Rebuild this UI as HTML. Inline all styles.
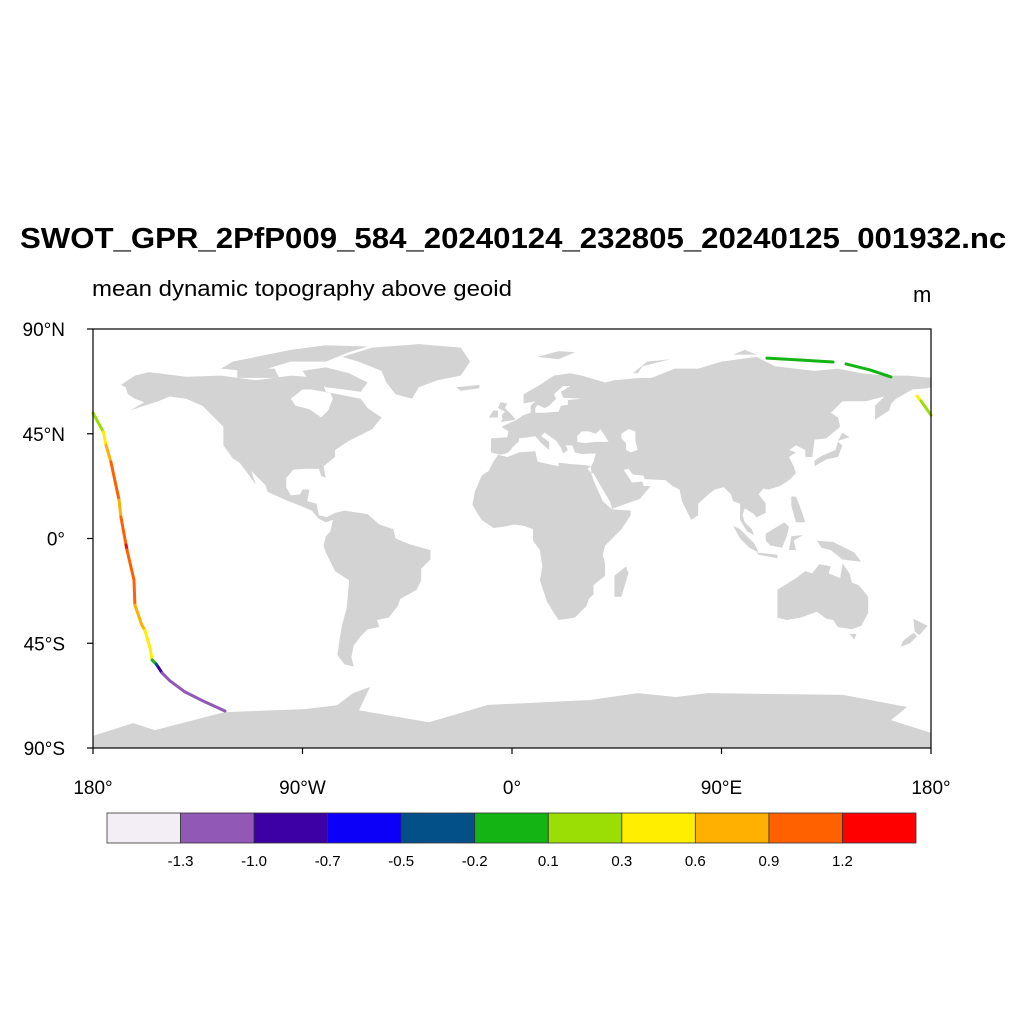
<!DOCTYPE html>
<html><head><meta charset="utf-8">
<style>
html,body{margin:0;padding:0;background:#fff;}
body{width:1024px;height:1024px;position:relative;overflow:hidden;font-family:"Liberation Sans",sans-serif;}
.t{position:absolute;white-space:nowrap;color:#000;transform-origin:0 0;}
</style></head>
<body>
<div class="t" style="left:20px;top:223px;font-size:29px;font-weight:bold;transform:scaleX(1.075);">SWOT_GPR_2PfP009_584_20240124_232805_20240125_001932.nc</div>
<div class="t" style="left:92px;top:276px;font-size:22px;transform:scaleX(1.09);">mean dynamic topography above geoid</div>
<div class="t" style="left:913px;top:282px;font-size:22px;">m</div>
<svg id="map" width="1024" height="1024" style="position:absolute;left:0;top:0" xmlns="http://www.w3.org/2000/svg"></svg>
<script>
const latTicks=[90,45,0,-45,-90];
const latLabels=["90°N","45°N","0°","45°S","90°S"];
const lonTicks=[-180,-90,0,90,180];
const lonLabels=["180°","90°W","0°","90°E","180°"];
const cbColors=["#f3eef6","#9159b5","#3d00a5","#0c00f8","#035088","#14b414","#9ade06","#ffee00","#ffb000","#ff6000","#ff0000"];
const cbLevels=[-1.3,-1.0,-0.7,-0.5,-0.2,0.1,0.3,0.6,0.9,1.2];
const cbLabels=["-1.3","-1.0","-0.7","-0.5","-0.2","0.1","0.3","0.6","0.9","1.2"];
// track 1
const t1Lon=[-180,-175.5,-174.4,-172.3,-168.8,-168.0,-165.8,-165.4,-162.4,-162.0,-159.0,-157.7,-155.5,-154.6,-152.9,-152.0,-150.3,-146.9,-140.5,-131.9,-123.3];
const t1Lat=[53.9,45.7,40.1,32.9,16.5,9.2,-2.8,-4.9,-17.8,-28.6,-37.2,-39.4,-47.0,-52.2,-53.9,-55.2,-57.8,-61.2,-65.9,-70.2,-74.1];
const t1Val=[0.2,0.45,0.7,1.0,0.7,1.0,1.25,1.0,1.0,0.7,0.7,0.45,0.45,0.0,-0.4,-0.8,-1.1,-1.1,-1.1,-1.1,-1.1];
const t2Lon=[109.5,123.7,137.9];
const t2Lat=[77.5,76.7,75.8];
const t2Val=[0.0,0.0,0.0];
const t3Lon=[143.5,153.8,162.8];
const t3Lat=[75.0,72.4,69.4];
const t3Val=[0.0,0.0,0.0];
const t4Lon=[174.0,175.7,180];
const t4Lat=[61.2,59.1,53.0];
const t4Val=[0.45,0.2,0.2];

const L=93,R=931,T=329,B=748;
const X=lon=>L+(lon+180)/360*(R-L);
const Y=lat=>T+(90-lat)/180*(B-T);
const NS="http://www.w3.org/2000/svg";
const svg=document.getElementById('map');
function mk(tag,attrs,parent){const e=document.createElementNS(NS,tag);for(const k in attrs)e.setAttribute(k,attrs[k]);(parent||svg).appendChild(e);return e;}

const land={
na:[[-168,66],[-162,70],[-156,71.5],[-140,69.5],[-125,70],[-110,68],[-95,70],[-82,69],[-80,63],[-65,60],[-62,56],[-56,52],[-60,47],[-66,44],[-70,42],[-76,38],[-76,35],[-81,31],[-80,26],[-82,27],[-83,30],[-89,30],[-94,29.5],[-97,26],[-97,22],[-95,18.5],[-91,19],[-90,21],[-87,21],[-88,16],[-84,15],[-83,10],[-79,9],[-77,8],[-80,7],[-83,8.5],[-86,12],[-92,14.5],[-96,16],[-105,20],[-106,23],[-112,29],[-110,23],[-115,30],[-117,32.5],[-120,34.5],[-124,40],[-124,48],[-127,51],[-133,57],[-140,60],[-147,61],[-152,59],[-158,57],[-164,55],[-158,58.5],[-162,60],[-165,62],[-166,65]],
greenland:[[-73,78],[-60,82],[-40,83.5],[-22,82],[-18,76],[-22,70],[-32,68],[-40,65],[-43,60],[-50,62],[-54,67],[-56,72],[-66,76]],
baffin:[[-90,72],[-80,73.5],[-70,71],[-62,67],[-65,63],[-72,64],[-80,65],[-88,69]],
ellesmere:[[-95,76],[-80,76],[-70,80],[-62,82.5],[-80,83],[-95,81],[-110,78],[-120,76],[-125,73],[-115,72],[-105,73]],
victoria:[[-118,69],[-100,69],[-102,73],[-118,73]],
sa:[[-80,9],[-76,11],[-72,12],[-62,10.5],[-57,6],[-51,4],[-50,0],[-44,-2.5],[-35,-5],[-35,-9],[-39,-13],[-39,-18],[-41,-22],[-48,-26],[-49,-29],[-53,-34],[-58,-35],[-57,-38],[-62,-39],[-65,-42],[-68,-46],[-69,-51],[-68,-55],[-72,-54],[-75,-50],[-74,-43],[-73,-37],[-71,-30],[-70,-18],[-76,-14],[-80,-6],[-81,-3],[-80,1],[-78,3],[-77,8]],
eurasia:[[-9,37],[-9,43],[-2,43.5],[-1.5,46],[-4.5,48],[2,51],[5,53],[8,54],[8,57],[10,59],[5,58],[5,62],[12,66],[18,70],[25,71],[30,70],[40,67],[44,68],[55,69],[60,69],[70,73],[80,73],[90,76],[105,78],[113,74],[130,72],[140,73],[150,71],[160,70],[170,70],[180,69],[180,65],[178,64.5],[172,64],[165,60],[163,58],[162,55],[156,51],[156,57],[160,61],[152,59],[142,59],[137,54],[140,52],[141,48],[135,43],[130,42.5],[129,35],[126,35],[126,38],[122,40],[119,38],[122,37],[119,35],[121,31],[122,28],[119,25],[115,22.5],[110,21],[108,21.5],[106,19],[109,15],[109,11],[105,9],[104,10.5],[100,13],[99,10],[100,7],[103,4],[104,1.5],[101,3],[98,8],[98,15],[95,16],[94,19],[91,22],[87,21],[85,19.5],[80,15],[80,10],[77,8],[73,16],[72,21],[69,22.5],[66,25],[57,25.5],[56.5,27],[52,27.5],[50,30],[48,29.5],[51,25],[51.5,24],[56,24.5],[56.5,22.5],[59.5,22.5],[55,17],[52,16],[43,12.7],[42,16],[39,21],[35,28],[34,28],[34,31],[35,33],[36,36.5],[30,36.3],[27,37],[26,40],[23,40],[24,38],[22,36.5],[21,39],[19,42],[14,45.5],[12.5,44],[16,41.5],[16,38],[12.5,41],[10,44],[7,43.5],[3,43],[3,41.8],[0,39],[-0.5,38],[-2,36.7],[-5,36]],
africa:[[-6,36],[-2,35],[3,37],[10,37.5],[11,33],[20,31],[20,32.5],[25,32],[32,31.5],[34,31],[32.5,30],[34,28],[35,25],[39,16],[43,12.5],[51,12],[51,10],[47,4],[40,-3],[39,-7],[40,-11],[40,-16],[35,-20],[35,-24],[33,-26],[32,-29],[27,-34],[20,-35],[18,-32],[15,-27],[12,-18],[13,-12],[12,-5],[9,-1],[9,4],[5,5.5],[1,6],[-4,5],[-8,4.5],[-13,8],[-15,11],[-17,14.5],[-16,20],[-13,27],[-10,29],[-8,33]],
madagascar:[[44,-25],[47,-25],[50,-15],[49,-12],[44,-16]],
britain:[[-5,50],[1.5,51],[0,53],[-3,56],[-2,58],[-5,58.5],[-6,56],[-3,54.5],[-4.5,53],[-4,51.5]],
ireland:[[-10,52],[-6,52],[-6,55],[-8,55]],
iceland:[[-24,65],[-14,66],[-14,64.5],[-22,63.5]],
japan:[[130,31],[135,34],[140,35],[142,40],[140,41.5],[139,38],[133,35.5],[130,33.5]],
hokkaido:[[140,42],[145,43.5],[142,45.5]],
philippines:[[120,18],[122,18],[124,13],[126,7],[122,7],[120,14]],
borneo:[[109,2],[117,7],[119,5],[118,1],[116,-4],[111,-3],[109,-1]],
sumatra:[[95,5.5],[98,4],[104,-2],[106,-6],[102,-4],[98,0]],
java:[[105,-6],[114,-7],[114,-8.5],[106,-7]],
sulawesi:[[119,-5],[120,1],[125,1.5],[121,-1],[122,-5]],
newguinea:[[131,-1],[138,-1.5],[147,-6],[150,-10],[142,-9],[137,-5],[133,-4]],
australia:[[114,-22],[114,-34],[118,-35],[124,-34],[131,-31.5],[135,-34.5],[138,-35],[140,-38],[146,-39],[150,-37.5],[153,-32],[153,-25],[149,-20],[146,-19],[145,-15],[142,-10.7],[141,-17],[136,-15],[137,-12],[132,-11],[129,-15],[126,-14],[122,-17]],
tasmania:[[145,-41],[148,-41],[147,-43.5]],
nzn:[[172.5,-34.5],[178.5,-37.5],[175,-41.5],[173,-40]],
nzs:[[172.5,-40.5],[174,-42],[171,-45],[167,-46.5],[168,-44]],
svalbard:[[11,78],[20,80.5],[27,80],[20,77]],
novaya:[[52,71],[58,76],[68,77],[56,74],[54,71]],
severnaya:[[95,79],[105,79],[100,81]],
antarctica:[[-180,-84.8],[-162.8,-79.3],[-153.4,-82.3],[-123.7,-74.6],[-88.9,-73.3],[-75.2,-71.6],[-68.3,-66.4],[-61,-63.8],[-65.7,-73.8],[-61,-74.6],[-35.7,-78.9],[-10.3,-71.5],[33.5,-69.4],[54.1,-66.4],[70.4,-68.1],[84.2,-66.4],[142.2,-67.2],[169.7,-72.4],[162.8,-78],[180,-83.5],[180,-90],[-180,-90]]
};
const water={
hudson:[[-95,60],[-93,57],[-87,55.5],[-82,52],[-79,55],[-77,60],[-78,62.5],[-86,64],[-90,64]],
blacksea:[[28,41.5],[28,44],[30,46],[33,46],[36,45],[38,47],[40,44],[41.5,41.5],[36,41.5],[31,41]],
caspian:[[47,45],[50,47],[53,46],[53,42],[54,38],[51,37],[49,38],[49,41],[47,43]],
baltic:[[10,54],[14,54],[20,54.5],[21,57],[24,57.5],[24,59.5],[30,60],[22,60.5],[21,63],[25,65.5],[22,65.5],[18,62],[19,60],[16,57],[14,56],[11,57.5],[10,56]]
};
const pts=a=>a.map(p=>X(p[0]).toFixed(1)+','+Y(p[1]).toFixed(1)).join(' ');
const landG=mk('g',{});


for(const k in land){const p=mk('polygon',{points:pts(land[k]),fill:'#d3d3d3'},landG);

}
for(const k in water){const p=mk('polygon',{points:pts(water[k]),fill:'#ffffff'},landG);

}

function colorFor(v){let i=0;while(i<cbLevels.length&&v>=cbLevels[i])i++;return cbColors[i];}
function track(lons,lats,vals,name){
 const g=mk('g',{});
 
 
 for(let i=0;i<lons.length-1;i++){
  const s=mk('line',{x1:X(lons[i]),y1:Y(lats[i]),x2:X(lons[i+1]),y2:Y(lats[i+1]),stroke:colorFor(vals[i]),'stroke-width':3,'stroke-linecap':'round'},g);
  
  
 }
}
track(t1Lon,t1Lat,t1Val,'track-pacific');
track(t2Lon,t2Lat,t2Val,'track-arctic-1');
track(t3Lon,t3Lat,t3Val,'track-arctic-2');
track(t4Lon,t4Lat,t4Val,'track-kamchatka');

const frame=mk('rect',{x:L,y:T,width:R-L,height:B-T,fill:'none',stroke:'#000','stroke-width':1.2});


latTicks.forEach((lat,i)=>{
 const y=Y(lat);
 const tk=mk('line',{x1:L-6,y1:y,x2:L,y2:y,stroke:'#000','stroke-width':1.2});
 
 
 const t=mk('text',{x:65,y:y+7,'text-anchor':'end','font-size':19,'font-family':'Liberation Sans, sans-serif'});
 t.textContent=latLabels[i];
 
 
});
lonTicks.forEach((lon,i)=>{
 const x=X(lon);
 const tk=mk('line',{x1:x,y1:B,x2:x,y2:B+6,stroke:'#000','stroke-width':1.2});
 
 
 const t=mk('text',{x:x,y:794,'text-anchor':'middle','font-size':19,'font-family':'Liberation Sans, sans-serif'});
 t.textContent=lonLabels[i];
 
 
});
// colorbar
const cbL=107,cbR=916,cbT=813,cbH=30,w=(cbR-cbL)/cbColors.length;
const cb=mk('g',{});


cbColors.forEach((c,i)=>{
 const r=mk('rect',{x:cbL+i*w,y:cbT,width:w,height:cbH,fill:c,stroke:'#333','stroke-width':0.8},cb);
 
 
});
cbLabels.forEach((s,i)=>{
 const t=mk('text',{x:cbL+(i+1)*w,y:866,'text-anchor':'middle','font-size':15,'font-family':'Liberation Sans, sans-serif'},cb);
 t.textContent=s;
 
 
});
</script>
</body></html>
